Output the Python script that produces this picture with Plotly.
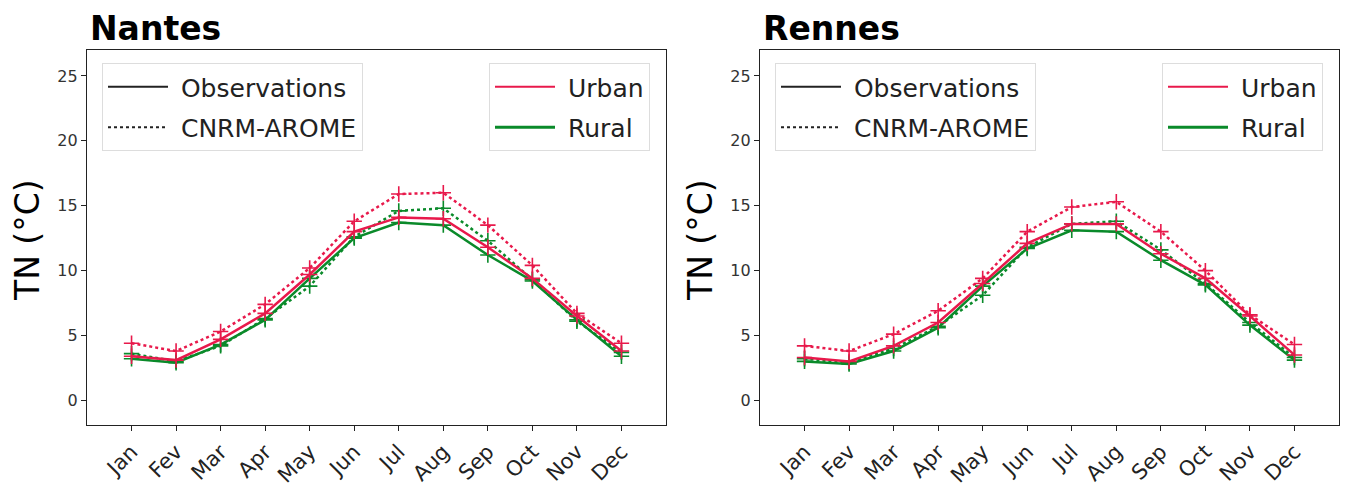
import plotly.graph_objects as go

# Monthly mean minimum temperature (TN, °C)
months = ["Jan", "Fev", "Mar", "Apr", "May", "Jun", "Jul", "Aug", "Sep", "Oct", "Nov", "Dec"]

nantes_urban_obs = [3.4, 3.1, 4.7, 6.7, 9.7, 13.0, 14.1, 14.0, 11.8, 9.4, 6.5, 3.8]
nantes_rural_obs = [3.2, 2.9, 4.3, 6.2, 9.4, 12.5, 13.7, 13.5, 11.2, 9.2, 6.2, 3.4]
nantes_urban_mod = [4.4, 3.8, 5.3, 7.4, 10.2, 13.8, 15.9, 16.0, 13.5, 10.4, 6.7, 4.4]
nantes_rural_mod = [3.6, 3.0, 4.2, 6.3, 8.8, 12.6, 14.6, 14.8, 12.3, 9.3, 6.1, 3.7]

rennes_urban_obs = [3.3, 3.0, 4.2, 6.0, 9.0, 12.1, 13.6, 13.6, 11.3, 9.4, 6.5, 3.5]
rennes_rural_obs = [3.0, 2.8, 3.8, 5.6, 8.8, 11.7, 13.1, 13.0, 10.8, 8.9, 5.8, 3.1]
rennes_urban_mod = [4.2, 3.8, 5.1, 6.9, 9.4, 13.0, 14.9, 15.3, 13.0, 10.0, 6.6, 4.3]
rennes_rural_mod = [3.2, 2.9, 4.0, 5.7, 8.1, 11.8, 13.6, 13.8, 11.6, 9.0, 6.0, 3.3]

y_ticks = [0, 5, 10, 15, 20, 25]

RED = "#e8194b"
GREEN = "#0a8a2a"

# the page body has an 8px margin, so the figure is a bit smaller than the window
OFF = 8
W, H = 1351 - OFF, 491 - OFF


def px(x):
    return (x - OFF) / W


def py(y):
    return 1 - (y - OFF) / H


panels = [
    ("Nantes", "x", "y", nantes_urban_obs, nantes_rural_obs, nantes_urban_mod, nantes_rural_mod),
    ("Rennes", "x2", "y2", rennes_urban_obs, rennes_rural_obs, rennes_urban_mod, rennes_rural_mod),
]

fig = go.Figure()

for name, xa, ya, u_obs, r_obs, u_mod, r_mod in panels:
    for vals, color, dash in [(r_mod, GREEN, "dot"), (u_mod, RED, "dot"),
                              (r_obs, GREEN, "solid"), (u_obs, RED, "solid")]:
        fig.add_trace(go.Scatter(
            x=months, y=vals, xaxis=xa, yaxis=ya, mode="lines+markers",
            line=dict(color=color, width=2.5, dash=dash),
            marker=dict(symbol="cross-thin-open", size=11, line=dict(color=color, width=1.6)),
            showlegend=False, hoverinfo="skip"))

# legend-only traces (two legends per panel)
sp = "\u00a0"
for i, lg in enumerate([("legend", "legend2"), ("legend3", "legend4")]):
    fig.add_trace(go.Scatter(x=[None], y=[None], mode="lines", name=sp + "Observations",
                             line=dict(color="#222222", width=2.2), legend=lg[0],
                             legendgroup="obs%d" % i))
    fig.add_trace(go.Scatter(x=[None], y=[None], mode="lines", name=sp + "CNRM-AROME",
                             line=dict(color="#222222", width=2, dash="dot"), legend=lg[0],
                             legendgroup="mod%d" % i))
    fig.add_trace(go.Scatter(x=[None], y=[None], mode="lines", name=sp + "Urban",
                             line=dict(color=RED, width=2.2), legend=lg[1],
                             legendgroup="urb%d" % i))
    fig.add_trace(go.Scatter(x=[None], y=[None], mode="lines", name=sp + "Rural",
                             line=dict(color=GREEN, width=2.8), legend=lg[1],
                             legendgroup="rur%d" % i))

x_dom = [(px(87), px(666)), (px(760), px(1339))]
y_dom = (py(425), py(50))

axis_common = dict(showline=True, linecolor="#222222", linewidth=1.3, mirror=True,
                   showgrid=False, zeroline=False, ticks="outside", ticklen=5,
                   tickcolor="#222222")

for i, suffix in enumerate(["", "2"]):
    fig.layout["xaxis" + suffix] = dict(
        domain=x_dom[i], range=[-1, 12], type="category", tickangle=-45,
        tickfont=dict(family="DejaVu Sans", size=21, color="#222222"),
        anchor="y" + suffix, **axis_common)
    fig.layout["yaxis" + suffix] = dict(
        domain=y_dom, range=[-1.9, 27], tickvals=y_ticks,
        tickfont=dict(family="DejaVu Sans", size=16, color="#333333"),
        anchor="x" + suffix, **axis_common)

legend_style = dict(bgcolor="white", bordercolor="#dddddd", borderwidth=1,
                    font=dict(family="DejaVu Sans", size=25, color="#222222"),
                    yanchor="top", itemwidth=60, tracegroupgap=5)

fig.update_layout(
    width=W, height=H, margin=dict(l=0, r=0, t=0, b=0),
    paper_bgcolor="white", plot_bgcolor="white",
    legend=dict(x=px(102), xanchor="left", y=py(63), **legend_style),
    legend2=dict(x=px(650), xanchor="right", y=py(63), **legend_style),
    legend3=dict(x=px(775), xanchor="left", y=py(63), **legend_style),
    legend4=dict(x=px(1323), xanchor="right", y=py(63), **legend_style),
)

for i, (name, *_rest) in enumerate(panels):
    fig.add_annotation(text="<b>%s</b>" % name, xref="paper", yref="paper",
                       x=px(88 + 673 * i), y=py(28), xanchor="left", yanchor="middle",
                       showarrow=False, font=dict(family="DejaVu Sans", size=33, color="black"))
    fig.add_annotation(text="TN (°C)", xref="paper", yref="paper",
                       x=px(28 + 673 * i), y=py(240), textangle=-90,
                       xanchor="center", yanchor="middle", showarrow=False,
                       font=dict(family="DejaVu Sans", size=33, color="black"))

fig.write_html("out.html")
